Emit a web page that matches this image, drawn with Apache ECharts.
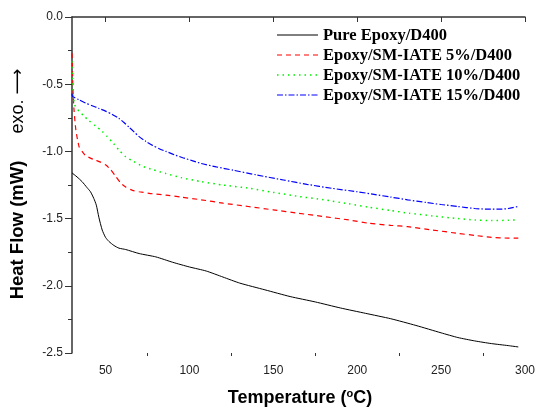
<!DOCTYPE html>
<html>
<head>
<meta charset="utf-8">
<script src="https://cdn.jsdelivr.net/npm/echarts@6/dist/echarts.min.js"></script>
<style>html,body{margin:0;padding:0;background:#fff}#c{width:538px;height:415px}</style>
</head>
<body>
<div id="c"></div>
<script>
var seriesNames = ['Pure Epoxy/D400', 'Epoxy/SM-IATE 5%/D400', 'Epoxy/SM-IATE 10%/D400', 'Epoxy/SM-IATE 15%/D400'];

var pureT = [30, 33, 36, 39, 41, 43, 44.5, 46, 48, 50, 52, 55, 58, 62, 70, 80, 90, 100, 110, 120, 130, 145, 160, 175, 190, 205, 220, 235, 250, 260, 270, 280, 290, 296];
var pureV = [-1.16, -1.19, -1.225, -1.27, -1.30, -1.35, -1.40, -1.49, -1.585, -1.64, -1.67, -1.70, -1.72, -1.73, -1.76, -1.785, -1.825, -1.86, -1.89, -1.935, -1.98, -2.03, -2.08, -2.12, -2.165, -2.205, -2.245, -2.295, -2.35, -2.385, -2.41, -2.43, -2.445, -2.455];

var redT = [30, 30.3, 30.6, 31.2, 32.3, 34.2, 36, 38, 41, 44, 47, 50, 53, 56, 59, 62, 66, 70, 78, 86, 95, 107, 120, 135, 150, 165, 180, 195, 207, 220, 230, 245, 260, 270, 280, 290, 296];
var redV = [-0.27, -0.4, -0.55, -0.69, -0.84, -0.965, -1.0, -1.03, -1.05, -1.065, -1.08, -1.10, -1.135, -1.185, -1.235, -1.265, -1.29, -1.30, -1.315, -1.325, -1.34, -1.36, -1.385, -1.41, -1.435, -1.46, -1.485, -1.51, -1.535, -1.55, -1.56, -1.585, -1.61, -1.625, -1.64, -1.645, -1.645];

var greenT = [30, 30.3, 30.8, 31.5, 33, 34.2, 37, 40, 44, 48, 51, 54, 58, 62, 66, 72, 78, 86, 95, 107, 120, 136, 150, 165, 180, 195, 207, 220, 231, 245, 260, 270, 280, 290, 296];
var greenV = [-0.33, -0.45, -0.58, -0.65, -0.685, -0.70, -0.735, -0.77, -0.81, -0.85, -0.89, -0.93, -0.99, -1.04, -1.07, -1.11, -1.135, -1.165, -1.195, -1.225, -1.25, -1.275, -1.305, -1.335, -1.36, -1.39, -1.415, -1.44, -1.46, -1.48, -1.50, -1.51, -1.515, -1.512, -1.51];

var blueT = [30, 30.3, 34, 38, 42, 46, 50, 54, 58, 61, 64, 67, 70, 74, 78, 82, 86, 91, 96, 102, 107, 116, 126, 140, 156, 170, 185, 200, 210, 220, 230, 241, 250, 260, 270, 278, 285, 290, 296];
var blueV = [-0.57, -0.59, -0.615, -0.64, -0.66, -0.68, -0.70, -0.725, -0.755, -0.785, -0.82, -0.855, -0.89, -0.925, -0.955, -0.98, -1.0, -1.025, -1.047, -1.07, -1.09, -1.115, -1.14, -1.175, -1.213, -1.245, -1.275, -1.30, -1.32, -1.34, -1.36, -1.38, -1.395, -1.41, -1.425, -1.43, -1.43, -1.425, -1.41];

var xMajorTicks = [50, 100, 150, 200, 250, 300];
var xMinorTicks = [75, 125, 175, 225, 275];

var colors = ['#000000', '#ff0000', '#00ee00', '#0000ff'];
var dashes = ['solid', [5, 4], [1.5, 4], [6, 2, 1.5, 2]];
var widths = [1, 1.2, 1.5, 1.2];

function zip(a, b) { return a.map(function (x, i) { return [x, b[i]]; }); }
var datasets = [zip(pureT, pureV), zip(redT, redV), zip(greenT, greenV), zip(blueT, blueV)];

var chart = echarts.init(document.getElementById('c'));
var axisColor = '#333';

var legendGraphics = [];
seriesNames.forEach(function (n, i) {
  var y = 35 + i * 20;
  legendGraphics.push({ type: 'line', shape: { x1: 277, y1: y, x2: 318, y2: y },
    style: { stroke: colors[i], lineWidth: widths[i], lineDash: dashes[i] === 'solid' ? null : dashes[i] } });
  legendGraphics.push({ type: 'text', x: 323, y: y + 1,
    style: { text: n, font: 'bold 16.5px "Liberation Serif"', fill: '#000', verticalAlign: 'middle', align: 'left' } });
});

chart.setOption({
  animation: false,
  grid: { left: 72, right: 11, top: 17, bottom: 62 },
  xAxis: [{
    type: 'value', min: 30, max: 300,
    axisLine: { show: true, lineStyle: { color: axisColor, width: 1.5 } },
    axisTick: { show: true, length: 5, customValues: xMajorTicks, lineStyle: { color: axisColor } },
    axisLabel: { customValues: xMajorTicks, margin: 12, fontFamily: 'Liberation Sans', fontSize: 12, color: '#222' },
    splitLine: { show: false }
  }, {
    type: 'value', min: 30, max: 300, position: 'bottom',
    axisLine: { show: false },
    axisTick: { show: true, length: 3, customValues: xMinorTicks, lineStyle: { color: axisColor } },
    axisLabel: { show: false },
    splitLine: { show: false }
  }],
  yAxis: {
    type: 'value', min: -2.5, max: 0, interval: 0.5,
    axisLine: { show: true, lineStyle: { color: axisColor, width: 1.5 } },
    axisTick: { show: true, length: 7, lineStyle: { color: axisColor } },
    minorTick: { show: true, splitNumber: 2, length: 4, lineStyle: { color: axisColor } },
    axisLabel: { margin: 9, fontFamily: 'Liberation Sans', fontSize: 12, color: '#222',
      formatter: function (v) { return v.toFixed(1); } },
    splitLine: { show: false }
  },
  series: seriesNames.map(function (n, i) {
    return { type: 'line', name: n, data: datasets[i], symbol: 'none', smooth: 0.2,
      lineStyle: { color: colors[i], width: widths[i], type: dashes[i] }, itemStyle: { color: colors[i] } };
  }),
  graphic: legendGraphics.concat([
    { type: 'text', x: 18, y: 230, rotation: Math.PI / 2,
      style: { text: 'Heat Flow (mW)', font: 'bold 18.5px "Liberation Sans"', fill: '#000', align: 'center', verticalAlign: 'middle' } },
    { type: 'text', x: 18, y: 101, rotation: Math.PI / 2,
      style: { rich: { a: { font: '18px "Liberation Sans"', fill: '#000' }, b: { font: '18px "DejaVu Sans"', fill: '#000' } },
        text: '{a|exo. }{b|\u27F6}', align: 'center', verticalAlign: 'middle' } },
    { type: 'text', x: 300, y: 398,
      style: { rich: { t: { font: 'bold 18px "Liberation Sans"', fill: '#000' }, s: { font: 'bold 11px "Liberation Sans"', fill: '#000', verticalAlign: 'top', padding: [0, 0, 8, 0] } },
        text: '{t|Temperature (}{s|o}{t|C)}', align: 'center', verticalAlign: 'middle' } }
  ])
});
</script>
</body>
</html>
